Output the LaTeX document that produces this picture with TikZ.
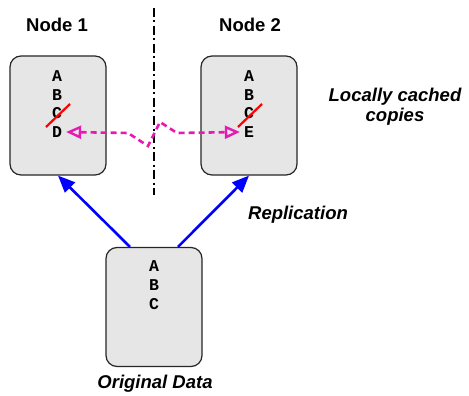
\documentclass[tikz,border=0pt]{standalone}
\usepackage{fontspec}
\setmainfont{Liberation Sans}
\setmonofont{Liberation Mono}
\usepackage{tikz}
\usetikzlibrary{arrows.meta, calc}
\definecolor{boxgray}{RGB}{230,230,230}
\definecolor{pinkish}{RGB}{230,25,180}
\tikzstyle{store} = [draw=black!85, rounded corners=11pt, fill=boxgray, minimum width=96pt, minimum height=119pt, line width=1.2pt]
\tikzstyle{item} = [font=\fontsize{16.5}{16}\selectfont\ttfamily\bfseries, inner sep=0pt]
\tikzstyle{title} = [font=\fontsize{18.5}{20}\selectfont\bfseries, align=center]
\tikzstyle{note} = [font=\fontsize{18.5}{20}\selectfont\bfseries\itshape, align=center]
\tikzstyle{repl} = [-{Triangle[length=17pt,width=14pt]}, blue, line width=2.6pt]
\tikzstyle{fetch} = [{Triangle[open,length=15pt,width=13pt,line width=2.4pt]}-{Triangle[open,length=15pt,width=13pt,line width=2.4pt]}, pinkish, line width=2.6pt, dash pattern=on 6pt off 4pt]
\tikzstyle{strike} = [red, line width=2.2pt]

\begin{document}
\begin{tikzpicture}[x=1pt, y=-1pt]
    \useasboundingbox (0,0) rectangle (469,396);
    % boxes
    \node[store] (node1) at (58,115.5) {};
    \node[store] (node2) at (249,115.5) {};
    \node[store] (orig) at (154,307) {};
    \node[title] (n1label) at (57,25) {Node 1};
    \node[title] (n2label) at (250,25) {Node 2};
    % partition between the nodes
    \draw[line width=2.4pt, dash pattern=on 9pt off 3.5pt on 2pt off 3.5pt] (154,8) -- (154,195);
    % data items
    \node[item] (a1) at (57,76) {A};
    \node[item] (b1) at (57,95) {B};
    \node[item] (c1) at (57,113.5) {C};
    \node[item] (d1) at (57,132) {D};
    \node[item] (a2) at (249,76) {A};
    \node[item] (b2) at (249,95) {B};
    \node[item] (c2) at (249,113.5) {C};
    \node[item] (e2) at (249,132) {E};
    \node[item] (a3) at (154,266) {A};
    \node[item] (b3) at (154,285) {B};
    \node[item] (c3) at (154,304) {C};
    \draw[strike] ($(c1)+(-11,13.5)$) -- ($(c1)+(13,-9.5)$);
    \draw[strike] ($(c2)+(-11,13.5)$) -- ($(c2)+(13,-9.5)$);
    % replication and remote fetch
    \draw[repl] ([xshift=-24pt]orig.north) -- (node1.south);
    \draw[repl] ([xshift=24pt]orig.north) -- (node2.south);
    \draw[fetch] ([xshift=4pt]d1.east) -- (128,133) -- (148,146) -- (160,122) -- (177,133) -- ([xshift=-4pt]e2.west);
    % notes
    \node[note] (repllabel) at (298,215) {Replication};
    \node[note] (cachelabel) at (395,107) {Locally cached\\copies};
    \node[note] (origlabel) at (155,384) {Original Data};
\end{tikzpicture}
\end{document}
